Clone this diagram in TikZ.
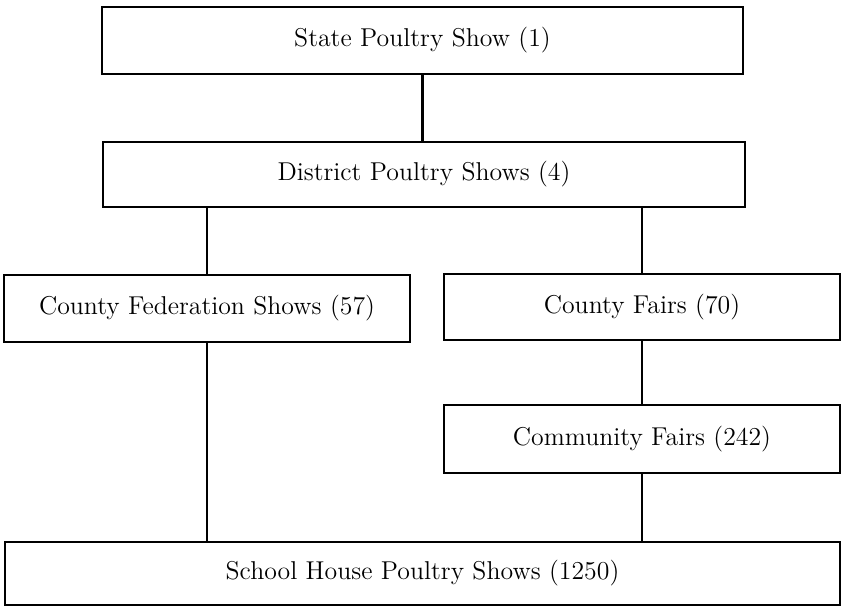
\documentclass[tikz,border=0pt]{standalone}
\usepackage{tikz}

\begin{document}
\begin{tikzpicture}[x=0.5pt,y=-0.5pt,font=\fontsize{12.9}{15}\selectfont,
    showbox/.style={draw,line width=1.4pt,inner sep=0pt,outer sep=0pt,align=center},
    link/.style={line width=1.1pt}]
  \useasboundingbox (0,0) rectangle (841,607);
  % ---------------- state and district level
  \node[showbox,minimum width=320.5pt,minimum height=33.5pt] (state) at (422.5,40.5) {State Poultry Show (1)};
  \node[showbox,minimum width=321pt,minimum height=32.5pt] (district) at (424,174.5) {District Poultry Shows (4)};
  % ---------------- county level
  \node[showbox,minimum width=203pt,minimum height=33.5pt] (federation) at (207,308.5) {County Federation Shows (57)};
  \node[showbox,minimum width=198pt,minimum height=33pt] (countyfairs) at (642,307) {County Fairs (70)};
  \node[showbox,minimum width=198pt,minimum height=34pt] (community) at (642,439) {Community Fairs (242)};
  % ---------------- school level
  \node[showbox,minimum width=417.5pt,minimum height=31.5pt] (school) at (422.5,573.5) {School House Poultry Shows (1250)};
  % ---------------- connectors
  \draw[link] (state.south) -- (state.south |- district.north);
  \draw[link] (federation.north |- district.south) -- (federation.north);
  \draw[link] (countyfairs.north |- district.south) -- (countyfairs.north);
  \draw[link] (countyfairs.south) -- (community.north);
  \draw[link] (federation.south) -- (federation.south |- school.north);
  \draw[link] (community.south) -- (community.south |- school.north);
\end{tikzpicture}
\end{document}
